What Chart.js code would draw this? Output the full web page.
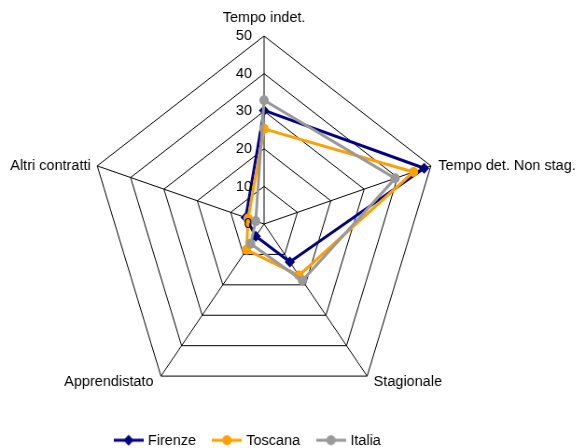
<!DOCTYPE html>
<html lang="it">
<head>
    <meta charset="UTF-8">
    <title>Tipologia contratti</title>
    <script src="https://cdn.jsdelivr.net/npm/chart.js"></script>
    <style>
        html, body { margin: 0; padding: 0; background: #fff; overflow: hidden; }
        /* il grafico originale è leggermente compresso in orizzontale */
        #graficoRadar { display: block; transform: scaleX(0.933); transform-origin: 0 0; }
    </style>
</head>
<body>
    <canvas id="graficoRadar" width="621" height="448"></canvas>

    <script>
        // Dati
        const categorie = ['Tempo indet.', 'Tempo det. Non stag.', 'Stagionale', 'Apprendistato', 'Altri contratti'];
        const firenze = [30.2, 48.0, 12.5, 4.0, 5.5];
        const toscana = [25.3, 44.8, 16.9, 8.5, 4.8];
        const italia = [32.9, 39.3, 18.6, 6.5, 2.5];
        const tickLabels = ['0', '10', '20', '30', '40', '50'];

        const FONT = '"Liberation Sans", Arial, sans-serif';

        // Icona legenda: linea con marcatore
        function iconaLegenda(colore, stile) {
            const c = document.createElement('canvas');
            c.width = 32;
            c.height = 12;
            const g = c.getContext('2d');
            g.strokeStyle = colore;
            g.lineWidth = 3;
            g.beginPath();
            g.moveTo(0, 6);
            g.lineTo(32, 6);
            g.stroke();
            g.fillStyle = colore;
            g.beginPath();
            if (stile === 'rombo') {
                g.moveTo(16, 0.5);
                g.lineTo(21.5, 6);
                g.lineTo(16, 11.5);
                g.lineTo(10.5, 6);
            } else {
                g.arc(16, 6, 5, 0, Math.PI * 2);
            }
            g.closePath();
            g.fill();
            return c;
        }

        // Etichette degli assi e dei tick disegnate a mano (posizione come nell'originale)
        const posEtichette = [
            { dx: 0, dy: -18, align: 'center' },
            { dx: 8, dy: 0, align: 'left' },
            { dx: 7, dy: 6, align: 'left' },
            { dx: -8, dy: 6, align: 'right' },
            { dx: -7, dy: 0, align: 'right' }
        ];

        const etichette = {
            id: 'etichette',
            afterLayout(chart) {
                // sposta un po' la legenda a sinistra
                chart.legend.left -= 17;
                chart.legend.right -= 17;
            },
            afterDraw(chart) {
                const s = chart.scales.r;
                const ctx = chart.ctx;
                ctx.save();
                ctx.font = '15.5px ' + FONT;
                ctx.fillStyle = '#000';
                ctx.textBaseline = 'middle';
                ctx.textAlign = 'right';
                tickLabels.forEach(t => {
                    const d = s.getDistanceFromCenterForValue(Number(t));
                    ctx.fillText(t, s.xCenter - 13, s.yCenter - d);
                });
                categorie.forEach((c, i) => {
                    const p = s.getPointPosition(i, s.drawingArea);
                    const o = posEtichette[i];
                    ctx.textAlign = o.align;
                    ctx.fillText(c, p.x + o.dx, p.y + o.dy);
                });
                ctx.restore();
            }
        };

        const ctx = document.getElementById('graficoRadar').getContext('2d');
        new Chart(ctx, {
            type: 'radar',
            data: {
                labels: categorie,
                datasets: [{
                    label: 'Firenze',
                    data: firenze,
                    order: 2,
                    borderColor: '#000080',
                    backgroundColor: '#000080',
                    borderWidth: 3,
                    fill: false,
                    pointStyle: 'rectRot',
                    pointRadius: 5.5,
                    pointBackgroundColor: '#000080',
                    pointBorderWidth: 0
                }, {
                    label: 'Toscana',
                    data: toscana,
                    order: 1,
                    borderColor: '#ffa000',
                    backgroundColor: '#ffa000',
                    borderWidth: 3,
                    fill: false,
                    pointStyle: 'circle',
                    pointRadius: 5,
                    pointBackgroundColor: '#ffa000',
                    pointBorderWidth: 0
                }, {
                    label: 'Italia',
                    data: italia,
                    order: 0,
                    borderColor: '#999999',
                    backgroundColor: '#999999',
                    borderWidth: 3,
                    fill: false,
                    pointStyle: 'circle',
                    pointRadius: 5,
                    pointBackgroundColor: '#999999',
                    pointBorderWidth: 0
                }]
            },
            options: {
                responsive: false,
                animation: false,
                layout: {
                    padding: { top: 36, bottom: -10, left: 0, right: 54 }
                },
                plugins: {
                    legend: {
                        display: true,
                        position: 'bottom',
                        labels: {
                            usePointStyle: true,
                            pointStyleWidth: 26,
                            boxHeight: 12,
                            padding: 20,
                            color: '#000',
                            font: { size: 15.5, family: FONT },
                            generateLabels(chart) {
                                const stili = ['rombo', 'cerchio', 'cerchio'];
                                return chart.data.datasets.map((d, i) => ({
                                    text: d.label,
                                    datasetIndex: i,
                                    pointStyle: iconaLegenda(d.borderColor, stili[i]),
                                    fillStyle: d.borderColor,
                                    strokeStyle: d.borderColor,
                                    lineWidth: 0,
                                    hidden: false
                                }));
                            }
                        }
                    },
                    tooltip: { enabled: false }
                },
                scales: {
                    r: {
                        min: 0,
                        max: 50,
                        ticks: { stepSize: 10, display: false },
                        grid: { color: '#000', lineWidth: 1 },
                        angleLines: { color: '#000', lineWidth: 1 },
                        pointLabels: { display: false }
                    }
                }
            },
            plugins: [etichette]
        });
    </script>
</body>
</html>
